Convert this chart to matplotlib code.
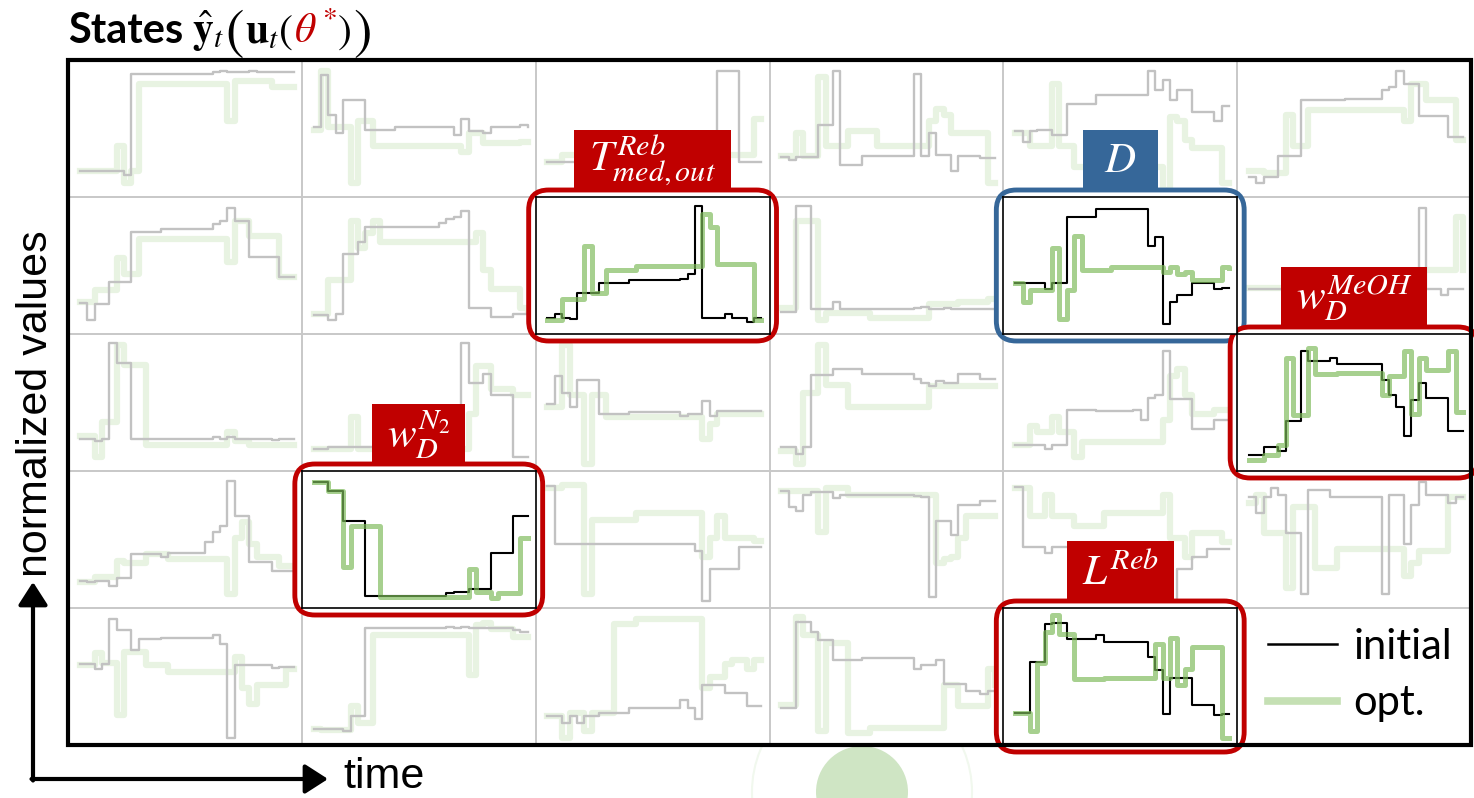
"""States grid: initial vs optimised trajectories (30 small panels)"""
import numpy as np, matplotlib
matplotlib.use('Agg')
import matplotlib.pyplot as plt
from matplotlib.patches import FancyBboxPatch, Rectangle, Circle
from matplotlib.lines import Line2D
plt.rcParams.update({'mathtext.fontset': 'stix', 'font.family': 'Lato'})

# ---- data: normalized values at 30 time steps, one list per panel ----
init_row0 = [
    [.15,.15,.15,.15,.15,.15,.12,.93,.93,.93, .93,.93,.93,.93,.93,.93,.93,.93,.94,.95, .94,.94,.94,.95,.94,.94,.94,.94,.94,.94],
    [.50,.92,.60,.45,.72,.72,.72,.48,.48,.48, .48,.50,.50,.50,.50,.50,.50,.50,.50,.44, .57,.47,.47,.45,.50,.50,.50,.50,.52,.50],
    [.22,.22,.22,.22,.22,.22,.22,.22,.22,.22, .22,.22,.22,.22,.22,.22,.22,.22,.22,.22, .22,.22,.22,.95,.95,.95,.22,.22,.22,.22],
    [.26,.24,.26,.26,.26,.52,.52,.95,.20,.20, .20,.27,.27,.27,.27,.27,.27,.27,.93,.27, .45,.28,.28,.15,.27,.27,.27,.25,.25,.25],
    [.47,.38,.47,.48,.48,.44,.44,.69,.69,.69, .69,.76,.76,.76,.76,.76,.76,.76,.95,.80, .88,.72,.80,.80,.62,.62,.62,.55,.67,.67],
    [.10,.05,.10,.10,.27,.27,.27,.72,.72,.72, .72,.72,.72,.73,.73,.73,.73,.73,.80,.82, .95,.85,.85,.59,.59,.59,.59,.42,.42,.42],
]
opt_row0 = [
    [.15,.15,.15,.15,.15,.35,.05,.15,.85,.85, .85,.85,.85,.85,.85,.85,.85,.85,.85,.85, .55,.87,.87,.87,.87,.87,.82,.82,.82,.82],
    [.48,.95,.50,.50,.50,.05,.55,.55,.35,.35, .35,.35,.35,.35,.35,.35,.35,.35,.35,.35, .30,.45,.45,.37,.37,.37,.37,.37,.38,.38],
    [.22,.22,.28,.28,.28,.28,.28,.28,.28,.28, .28,.28,.28,.28,.28,.28,.28,.28,.28,.28, .28,.28,.28,.28,.28,.28,.28,.28,.57,.57],
    [.27,.27,.45,.27,.27,.90,.35,.35,.35,.47, .47,.47,.47,.35,.35,.35,.35,.35,.35,.35, .55,.65,.60,.45,.45,.45,.45,.45,.05,.05],
    [.45,.45,.35,.35,.35,.85,.35,.35,.18,.18, .18,.18,.18,.18,.18,.18,.18,.18,.18,.18, .00,.58,.55,.40,.33,.33,.33,.33,.05,.05],
    [.15,.15,.13,.13,.13,.60,.35,.35,.64,.64, .64,.64,.64,.64,.64,.64,.64,.64,.64,.64, .64,.55,.85,.85,.72,.72,.72,.72,.40,.40],
]
init_row1 = [
    [.19,.05,.18,.18,.36,.36,.36,.76,.76,.76, .76,.78,.78,.78,.78,.78,.78,.78,.82,.85, .95,.85,.85,.56,.56,.56,.56,.40,.40,.40],
    [.09,.09,.05,.10,.58,.58,.68,.80,.80,.80, .80,.80,.80,.80,.80,.80,.80,.83,.86,.88, .93,.15,.15,.15,.08,.08,.08,.10,.10,.10],
    [.07,.10,.07,.06,.27,.27,.27,.35,.35,.35, .35,.37,.37,.37,.37,.37,.37,.37,.38,.42, .97,.07,.07,.07,.10,.07,.07,.04,.07,.07],
    [.12,.12,.97,.97,.14,.14,.14,.20,.14,.14, .14,.14,.14,.14,.14,.14,.14,.14,.15,.16, .14,.14,.15,.14,.14,.14,.14,.14,.14,.14],
    [.35,.35,.35,.35,.30,.35,.35,.88,.88,.88, .88,.94,.94,.94,.94,.94,.94,.94,.65,.72, .02,.20,.25,.25,.35,.35,.35,.30,.31,.31],
    [.30,.30,.30,.30,.30,.30,.30,.30,.30,.30, .30,.30,.30,.30,.30,.30,.30,.30,.30,.30, .30,.30,.30,.95,.30,.30,.25,.30,.30,.30],
]
opt_row1 = [
    [.20,.20,.29,.29,.29,.55,.42,.42,.70,.70, .70,.70,.70,.70,.70,.70,.70,.70,.70,.70, .52,.85,.85,.73,.73,.73,.73,.40,.40,.40],
    [.10,.10,.37,.37,.37,.85,.63,.75,.85,.68, .68,.68,.68,.68,.68,.68,.68,.68,.68,.68, .68,.68,.75,.45,.30,.30,.30,.30,.15,.12],
    [.05,.05,.22,.22,.22,.65,.27,.27,.45,.45, .45,.45,.49,.49,.49,.49,.49,.49,.49,.49, .49,.90,.80,.50,.50,.50,.50,.50,.05,.05],
    [.15,.15,.85,.85,.85,.05,.11,.11,.11,.11, .11,.11,.07,.07,.07,.07,.07,.07,.07,.07, .18,.18,.18,.18,.20,.20,.20,.20,.22,.22],
    [.35,.20,.29,.29,.29,.63,.06,.29,.73,.45, .45,.45,.45,.48,.48,.48,.48,.48,.48,.48, .44,.48,.42,.44,.37,.37,.37,.37,.48,.47],
    [.31,.31,.31,.31,.31,.05,.30,.30,.30,.30, .30,.30,.30,.30,.30,.30,.30,.30,.30,.30, .30,.30,.30,.45,.45,.45,.45,.45,.88,.45],
]
init_row2 = [
    [.20,.20,.18,.20,.97,.81,.81,.20,.20,.20, .20,.20,.20,.20,.20,.20,.20,.20,.21,.20, .21,.20,.20,.20,.20,.20,.19,.20,.20,.20],
    [.12,.12,.13,.13,.13,.13,.13,.13,.13,.13, .13,.13,.13,.13,.13,.13,.13,.13,.13,.13, .97,.65,.65,.72,.55,.55,.55,.05,.05,.05],
    [.48,.70,.57,.45,.67,.67,.67,.40,.40,.40, .40,.41,.41,.41,.41,.41,.41,.41,.38,.40, .40,.50,.38,.42,.42,.42,.42,.42,.42,.42],
    [.13,.13,.08,.13,.71,.71,.71,.76,.76,.76, .76,.72,.72,.72,.72,.72,.72,.72,.68,.65, .62,.66,.65,.65,.72,.72,.72,.68,.68,.68],
    [.15,.15,.15,.15,.12,.15,.15,.43,.43,.43, .43,.42,.42,.42,.42,.42,.43,.35,.53,.55, .90,.52,.52,.52,.28,.28,.28,.35,.35,.35],
    [.07,.07,.13,.13,.10,.34,.34,.90,.82,.82, .82,.85,.80,.80,.80,.80,.80,.80,.67,.55, .45,.22,.51,.65,.53,.53,.53,.26,.26,.26],
]
opt_row2 = [
    [.22,.22,.05,.33,.33,.95,.79,.79,.79,.15, .15,.15,.15,.15,.15,.15,.15,.15,.15,.15, .25,.18,.18,.15,.15,.15,.15,.15,.15,.15],
    [.12,.12,.12,.12,.12,.37,.12,.12,.12,.12, .12,.12,.12,.12,.12,.12,.12,.12,.12,.12, .12,.40,.78,.78,.60,.60,.60,.55,.55,.55],
    [.45,.45,.95,.55,.55,.00,.55,.55,.37,.37, .37,.37,.37,.37,.37,.37,.37,.37,.37,.37, .37,.20,.32,.40,.40,.40,.40,.40,.40,.40],
    [.10,.10,.00,.57,.57,.95,.63,.63,.63,.45, .45,.45,.45,.45,.45,.45,.45,.45,.45,.45, .62,.62,.62,.62,.62,.62,.62,.62,.62,.62],
    [.15,.15,.30,.25,.25,.37,.25,.25,.05,.17, .17,.17,.17,.17,.17,.17,.17,.17,.17,.17, .35,.70,.76,.55,.40,.40,.40,.43,.43,.43],
    [.03,.03,.07,.07,.15,.85,.39,.39,.93,.72, .72,.72,.73,.73,.73,.73,.73,.73,.55,.70, .70,.90,.40,.85,.75,.75,.75,.90,.41,.41],
]
init_row3 = [
    [.16,.15,.16,.16,.12,.18,.18,.37,.37,.37, .37,.35,.38,.38,.38,.38,.38,.47,.55,.60, .96,.68,.68,.31,.31,.31,.24,.24,.24,.24],
    [.95,.95,.88,.88,.64,.64,.64,.04,.04,.04, .04,.04,.04,.04,.04,.04,.04,.04,.06,.07, .07,.09,.09,.09,.38,.38,.38,.68,.68,.68],
    [.92,.45,.45,.45,.45,.45,.45,.45,.45,.45, .45,.45,.45,.45,.45,.45,.45,.45,.45,.45, .40,.00,.25,.25,.25,.25,.43,.43,.43,.43],
    [.88,.75,.72,.85,.87,.87,.87,.82,.85,.85, .85,.85,.85,.85,.85,.85,.85,.85,.84,.83, .03,.64,.64,.53,.77,.77,.77,.80,.80,.80],
    [.91,.43,.43,.43,.38,.43,.43,.43,.43,.43, .43,.43,.43,.43,.43,.43,.43,.43,.43,.30, .25,.00,.25,.25,.35,.35,.41,.41,.41,.41],
    [.83,.70,.83,.90,.85,.54,.54,.05,.89,.89, .89,.83,.83,.83,.83,.83,.83,.83,.05,.85, .85,.45,.77,.95,.85,.85,.85,.78,.83,.83],
]
opt_row3 = [
    [.15,.15,.19,.19,.19,.32,.30,.30,.30,.37, .37,.37,.33,.33,.33,.33,.33,.33,.33,.33, .05,.50,.63,.45,.35,.35,.35,.28,.28,.28],
    [.95,.95,.88,.88,.27,.60,.60,.60,.60,.03, .03,.03,.03,.03,.03,.03,.03,.03,.03,.03, .03,.25,.07,.07,.02,.06,.06,.06,.50,.50],
    [.90,.90,.93,.93,.93,.05,.65,.65,.65,.65, .65,.65,.70,.70,.70,.70,.70,.70,.70,.70, .70,.35,.50,.68,.50,.50,.50,.50,.48,.48],
    [.88,.88,.88,.88,.88,.55,.90,.90,.90,.85, .85,.85,.85,.85,.85,.85,.85,.85,.85,.85, .85,.30,.33,.35,.50,.68,.68,.68,.68,.68],
    [.90,.90,.68,.68,.85,.68,.68,.68,.60,.60, .60,.60,.70,.70,.70,.70,.70,.70,.70,.70, .85,.50,.50,.35,.54,.54,.54,.54,.47,.47],
    [.78,.85,.54,.54,.54,.10,.75,.75,.75,.26, .26,.26,.41,.41,.41,.41,.41,.41,.41,.41, .41,.20,.30,.40,.40,.40,.40,.83,.83,.83],
]
init_row4 = [
    [.59,.59,.55,.59,.95,.86,.86,.70,.79,.79, .79,.80,.80,.80,.80,.80,.80,.80,.82,.75, .00,.58,.58,.58,.58,.58,.56,.57,.57,.57],
    [.07,.07,.07,.07,.05,.17,.17,.88,.88,.88, .88,.88,.88,.88,.88,.88,.88,.88,.89,.88, .89,.88,.88,.88,.88,.88,.88,.86,.85,.85],
    [.17,.17,.12,.17,.12,.17,.17,.20,.20,.20, .20,.24,.24,.24,.24,.24,.24,.24,.30,.24, .15,.42,.42,.42,.36,.36,.36,.25,.25,.25],
    [.24,.24,.93,.93,.85,.78,.78,.62,.62,.62, .62,.64,.64,.64,.64,.64,.64,.64,.55,.58, .58,.62,.43,.43,.43,.37,.37,.35,.37,.37],
    [.20,.20,.61,.61,.91,.92,.92,.79,.79,.79, .79,.82,.77,.77,.77,.77,.77,.77,.65,.54, .19,.48,.48,.48,.26,.26,.26,.18,.19,.19],
]
opt_row4 = [
    [.58,.58,.68,.60,.60,.18,.69,.69,.69,.58, .58,.58,.53,.53,.53,.53,.53,.53,.53,.53, .53,.65,.40,.27,.42,.42,.42,.42,.55,.55],
    [.07,.06,.06,.06,.06,.25,.12,.12,.82,.82, .82,.82,.82,.82,.82,.82,.82,.82,.82,.82, .82,.50,.90,.92,.87,.87,.87,.81,.81,.81],
    [.17,.17,.00,.20,.20,.05,.20,.20,.20,.91, .91,.91,.95,.95,.95,.95,.95,.95,.95,.95, .95,.40,.49,.49,.59,.62,.62,.55,.62,.62],
    [.26,.26,.97,.82,.82,.05,.76,.76,.76,.04, .04,.04,.08,.08,.08,.08,.08,.08,.08,.08, .08,.08,.42,.42,.25,.25,.25,.25,.55,.42],
    [.20,.20,.05,.60,.85,.98,.83,.83,.47,.47, .47,.47,.48,.48,.48,.48,.48,.48,.48,.75, .48,.80,.42,.55,.73,.73,.73,.73,.00,.00],
]

hl_cells  = [(1, 2), (1, 4), (2, 5), (3, 1), (4, 4)]
hl_labels = [r'$T^{Reb}_{med,out}$', r'$D$', r'$w_D^{MeOH}$', r'$w_D^{N_2}$', r'$L^{Reb}$']
hl_colors = ['#C00000', '#366799', '#C00000', '#C00000', '#C00000']

init_rows = [init_row0, init_row1, init_row2, init_row3, init_row4]
opt_rows  = [opt_row0, opt_row1, opt_row2, opt_row3, opt_row4]

# ---- layout (pixels) ----
W, H = 1474, 798
X0, X1, Y0, Y1 = 68, 1471, 60, 745
NC, NR = 6, 5
cw, ch = (X1 - X0) / NC, (Y1 - Y0) / NR

def frac(x, y, w, h):
    return [x / W, 1 - (y + h) / H, w / W, h / H]

fig = plt.figure(figsize=(W / 100, H / 100), dpi=100, facecolor='white')

# faint background decoration
bg = fig.add_axes([0, 0, 1, 1], zorder=0)
bg.set_xlim(0, W); bg.set_ylim(H, 0); bg.axis('off')
bg.add_patch(Circle((862, 792), 46, fc='#cfe5c4', ec='none'))
bg.add_patch(Circle((862, 792), 110, fc='none', ec='#f1f8ee', lw=1.5))

# grid of panels
gax = fig.add_axes(frac(X0, Y0, X1 - X0, Y1 - Y0), zorder=0.5)
gax.set_xlim(0, NC); gax.set_ylim(NR, 0)
gax.set_xticks(range(1, NC)); gax.set_yticks(range(1, NR))
gax.tick_params(length=0, labelbottom=False, labelleft=False)
gax.grid(color='#c8c8c8', lw=1.4)
gax.set_facecolor('white')
for s in gax.spines.values():
    s.set_visible(False)

t = np.arange(30)
for r in range(NR):
    for c in range(len(init_rows[r])):
        is_hl = (r, c) in hl_cells
        a = fig.add_axes(frac(X0 + c * cw, Y0 + r * ch, cw, ch), zorder=3 if is_hl else 1)
        a.set_xlim(-1.6, 30.1); a.set_ylim(-0.06, 1.04)
        a.set_xticks([]); a.set_yticks([])
        if is_hl:
            a.set_facecolor('white')
            for s in a.spines.values():
                s.set_color('black'); s.set_linewidth(1.2)
            a.plot(t, init_rows[r][c], drawstyle='steps-post', color='black', lw=1.5)
            a.plot(t, opt_rows[r][c], drawstyle='steps-post', color='#7dbb5a', alpha=0.68, lw=3.6)
        else:
            a.set_facecolor('none')
            for s in a.spines.values():
                s.set_visible(False)
            a.plot(t, opt_rows[r][c], drawstyle='steps-post', color='#e8f3e2', lw=4.5)
            a.plot(t, init_rows[r][c], drawstyle='steps-post', color='#c2c2c2', lw=1.7)

# highlight frames (below highlighted panels)
hax = fig.add_axes([0, 0, 1, 1], zorder=2)
hax.set_xlim(0, W); hax.set_ylim(H, 0); hax.axis('off')
pad = 7
for (r, c), col in zip(hl_cells, hl_colors):
    hax.add_patch(FancyBboxPatch((X0 + c * cw - pad, Y0 + r * ch - pad), cw + 2 * pad, ch + 2 * pad,
                                 boxstyle='round,pad=0,rounding_size=20', fc='white', ec=col, lw=3.5))

# top overlay: labels, border, title, legend, axis arrows
ov = fig.add_axes([0, 0, 1, 1], zorder=5)
ov.set_xlim(0, W); ov.set_ylim(H, 0); ov.axis('off')
ov.add_patch(Rectangle((X0, Y0), X1 - X0, Y1 - Y0, fill=False, ec='black', lw=3))

rend = fig.canvas.get_renderer()
lab_h, lab_minw, lab_padx = 61, 75, 15
for (r, c), lab, col in zip(hl_cells, hl_labels, hl_colors):
    cx, bottom = X0 + (c + 0.5) * cw, Y0 + r * ch - pad + 1
    txt = ov.text(cx, bottom - lab_h / 2, lab, ha='center', va='center', color='white',
                  fontsize=31, zorder=3)
    bw = max(txt.get_window_extent(rend).width + 2 * lab_padx, lab_minw)
    ov.add_patch(Rectangle((cx - bw / 2, bottom - lab_h), bw, lab_h, fc=col, ec='none', zorder=2))

# title with red theta*
base = 43
prev = ov.text(X0, base, 'States', fontsize=30, fontweight='bold', va='baseline', ha='left')
pieces = [(r'$\hat{\mathbf{y}}_t$', 30, 'black', 0, 6),
          (r'$($', 40, 'black', 5, 1),
          (r'$\mathbf{u}_t($', 30, 'black', 0, 1),
          (r'$\theta^*$', 30, '#C00000', 0, 0),
          (r'$)$', 30, 'black', 0, 0),
          (r'$)$', 40, 'black', 5, 1)]
for s, fs, col, dy, gap in pieces:
    prev = ov.annotate(s, xy=(1, base + dy), xycoords=(prev, 'data'), xytext=(gap, 0),
                       textcoords='offset points', va='baseline', ha='left', fontsize=fs, color=col)

# legend
handles = [Line2D([], [], color='black', lw=1.8), Line2D([], [], color='#c5e0b4', lw=5.5)]
ov.legend(handles, ['initial', 'opt.'], loc='center left', bbox_to_anchor=(1268, 675),
          bbox_transform=ov.transData, frameon=False, fontsize=30, handlelength=1.65,
          handletextpad=0.4, labelspacing=0.45, borderpad=0, borderaxespad=0)

# axis arrows
arr = dict(arrowstyle='-|>,head_length=0.7,head_width=0.45', lw=3, color='black',
           shrinkA=0, shrinkB=0, mutation_scale=20)
ov.annotate('', xy=(33, 582), xytext=(33, 780.5), arrowprops=arr)
ov.annotate('', xy=(328, 779), xytext=(31.5, 779), arrowprops=arr)
ov.text(36, 404, 'normalized values', rotation=90, ha='center', va='center', fontsize=31,
        family='Liberation Sans')
ov.text(343, 777, 'time', ha='left', va='center', fontsize=31, family='Liberation Sans')

fig.savefig('out.png', dpi=100, facecolor='white')
